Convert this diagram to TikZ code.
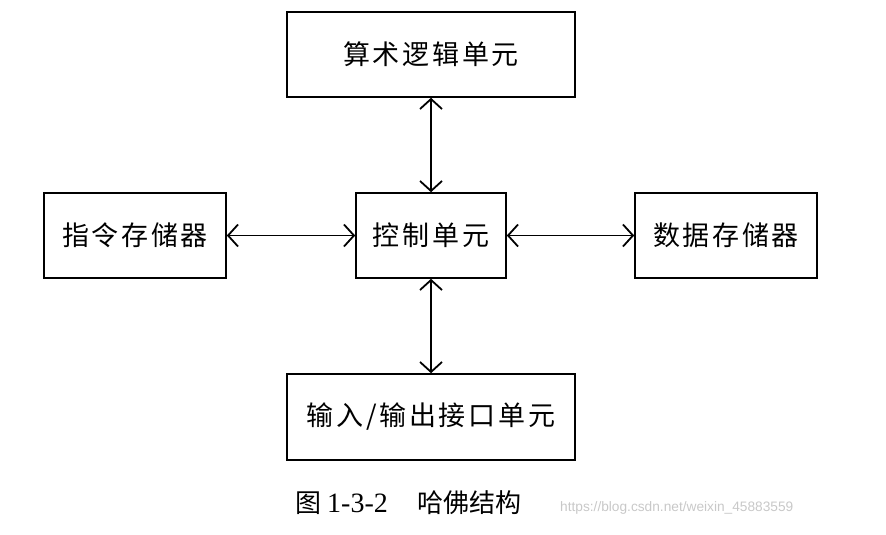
\documentclass[tikz,border=0pt]{standalone}
\usepackage{fontspec}
\setmainfont{Liberation Serif}
\newfontfamily\cjk{Noto Sans CJK SC}[LetterSpace=10]
\newfontfamily\cjkcap{Noto Sans CJK SC}
\newfontfamily\wmfont{Liberation Sans}
\usetikzlibrary{positioning}
\usetikzlibrary{arrows.meta}
\definecolor{wmgray}{RGB}{200,200,200}

\begin{document}
\begin{tikzpicture}[x=1pt, y=-1pt,
    unit/.style={draw, line width=1.6pt, inner sep=0pt, minimum height=85pt,
                 font=\fontsize{27}{30}\cjk},
    link/.style={{Straight Barb[length=10pt,width=22pt]}-{Straight Barb[length=10pt,width=22pt]}, line width=1.8pt}]
    \useasboundingbox (0,0) rectangle (886,535);

    \node[unit, minimum width=288pt] (alu) at (431, 54.5) {算术逻辑单元};
    \node[unit, minimum width=182pt] (imem) at (135, 235.5) {指令存储器};
    \node[unit, minimum width=150pt] (ctrl) at (431, 235.5) {控制单元};
    \node[unit, minimum width=182pt] (dmem) at (726, 235.5) {数据存储器};
    \node[unit, minimum width=288pt, minimum height=86pt] (io) at (431, 417) {输入/输出接口单元};

    \draw[link] (ctrl) -- (alu);
    \draw[link] (imem) -- (ctrl);
    \draw[link] (ctrl) -- (dmem);
    \draw[link] (ctrl) -- (io);

    % caption and watermark
    \node[anchor=west, inner sep=0pt] (cap) at (295, 503)
        {{\fontsize{26}{30}\cjkcap 图}\hspace{6pt}{\fontsize{28}{30}\selectfont 1-3-2}\hspace{30pt}{\fontsize{26}{30}\cjkcap 哈佛结构}};
    \node[anchor=west, inner sep=0pt, text=wmgray, font=\fontsize{13.7}{15}\wmfont] (wm) at (560, 508)
        {https://blog.csdn.net/weixin\_45883559};
\end{tikzpicture}
\end{document}
